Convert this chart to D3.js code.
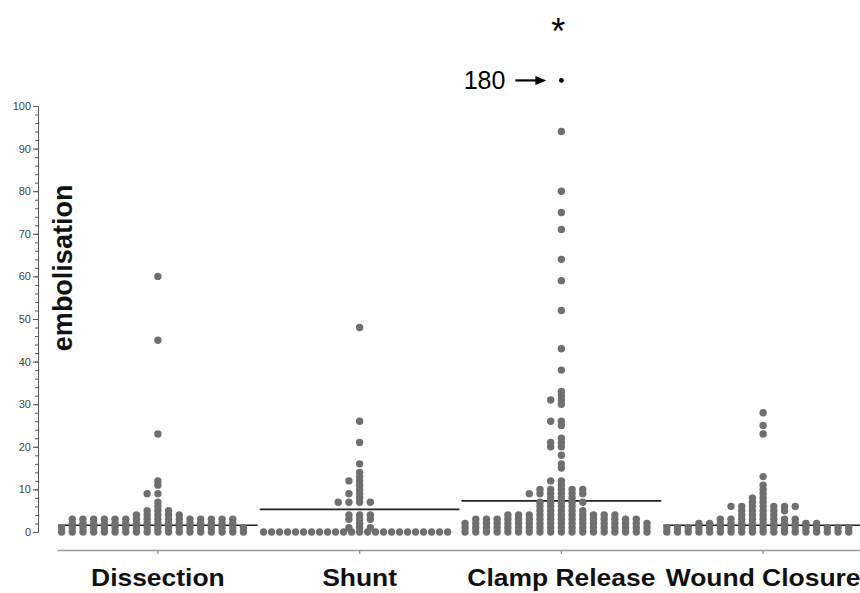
<!DOCTYPE html>
<meta charset="utf-8">
<title>Embolisation by operative phase</title>
<style>
  html, body { margin: 0; padding: 0; background: #fff; }
  svg { display: block; font-family: 'Liberation Sans', Arial, sans-serif; }
  .dot { fill: #6f6f6f; }
  .centre { stroke: #222; stroke-width: 1.6px; }
  .y-axis path, .y-axis line { stroke: #555; }
  .y-axis text { fill: #444; font-size: 11px; }
  .x-axis path, .x-axis line { stroke: #9a9a9a; stroke-width: 1.4px; }
  .cat { font-size: 23px; font-weight: bold; fill: #111; text-anchor: middle; }
  .ylabel { font-size: 27px; font-weight: bold; fill: #111; text-anchor: middle; }
</style>
<svg width="860" height="593"></svg>
<script src="https://cdn.jsdelivr.net/npm/d3@7"></script>
<script>
  /* global d3 */
  'use strict'

  const groups = ['Dissection', 'Shunt', 'Clamp Release', 'Wound Closure']

  // [embolisation count, number of patients]
  const dissection = [[0, 18], [1, 18], [2, 16], [3, 16], [4, 5], [5, 3], [6, 1], [7, 1],
    [9, 2], [11, 1], [12, 1], [23, 1], [45, 1], [60, 1]]
  const shunt = [[0, 24], [1, 3], [2, 1], [3, 3], [4, 3], [7, 4], [8, 1], [9, 2], [10, 1],
    [11, 1], [12, 2], [13, 1], [14, 1], [16, 1], [21, 1], [26, 1], [48, 1]]
  const clampRelease = [[0, 18], [1, 18], [2, 18], [3, 16], [4, 11], [5, 5], [6, 4], [7, 5],
    [8, 3], [9, 6], [10, 5], [11, 1], [12, 2], [15, 1], [16, 1], [18, 1], [20, 2], [21, 2],
    [22, 1], [25, 1], [26, 2], [30, 1], [31, 2], [32, 1], [33, 1], [38, 1], [43, 1], [52, 1],
    [59, 1], [64, 1], [71, 1], [75, 1], [80, 1], [94, 1]]
  const woundClosure = [[0, 18], [1, 18], [2, 12], [3, 8], [4, 4], [5, 5], [6, 7], [7, 2],
    [8, 2], [9, 1], [10, 1], [11, 1], [13, 1], [23, 1], [25, 1], [28, 1]]

  // horizontal line drawn across each group
  const centreLine = [1.6, 5.3, 7.3, 1.6]

  // value off the top of the axis, drawn above the break
  const offScale = [{ group: 'Clamp Release', value: 180 }]

  const series = [dissection, shunt, clampRelease, woundClosure]

  const svg = d3.select('svg')

  const x = d3.scaleBand().domain(groups).range([57, 864])
  const y = d3.scaleLinear().domain([0, 100]).range([532, 106])

  // lay each value's dots out in a row, centred on the group
  function rowLayout(counts, centre, step, maxWidth) {
    const pts = []
    counts.forEach(([v, n]) => {
      const s = n > 1 ? Math.min(step, maxWidth / (n - 1)) : step
      const first = -Math.floor(n / 2)
      for (let i = 0; i < n; i++) pts.push({ v, x: centre + (first + i) * s })
    })
    return pts
  }

  // y axis: minor ticks every 2, labelled ticks every 10
  svg.append('g')
    .attr('class', 'y-axis')
    .attr('transform', 'translate(38,0)')
    .call(d3.axisLeft(y).tickValues(d3.range(0, 101, 2)).tickSize(3).tickFormat(''))
  svg.append('g')
    .attr('class', 'y-axis')
    .attr('transform', 'translate(38,0)')
    .call(d3.axisLeft(y).tickValues(d3.range(0, 101, 10)).tickSize(5).tickSizeOuter(0).tickPadding(2))
    .call(g => g.select('.domain').remove())

  // x axis
  svg.append('g')
    .attr('class', 'x-axis')
    .attr('transform', 'translate(0,550)')
    .call(d3.axisBottom(x).tickSize(4).tickSizeOuter(0).tickFormat(''))

  svg.selectAll('.cat')
    .data(groups)
    .enter().append('text')
    .attr('class', 'cat')
    .attr('transform', d => `translate(${x(d) + x.bandwidth() / 2},586) scale(1.15,1)`)
    .text(d => d)

  svg.append('text')
    .attr('class', 'ylabel')
    .attr('transform', `translate(72,${y(62)}) rotate(-90)`)
    .text('embolisation')

  // centre lines
  svg.selectAll('.centre')
    .data(groups)
    .enter().append('line')
    .attr('class', 'centre')
    .attr('x1', d => x(d) + 1)
    .attr('x2', d => x(d) + x.bandwidth() - 1)
    .attr('y1', (d, i) => y(centreLine[i]))
    .attr('y2', (d, i) => y(centreLine[i]))

  // dots
  series.forEach((counts, i) => {
    const c = x(groups[i]) + x.bandwidth() / 2
    svg.append('g')
      .selectAll('circle')
      .data(rowLayout(counts, c, 10.7, 184))
      .enter().append('circle')
      .attr('class', 'dot')
      .attr('cx', d => d.x)
      .attr('cy', d => y(d.v))
      .attr('r', 3.7)
  })

  // the off-scale value, with its label and star
  const breakY = y(106)
  offScale.forEach(o => {
    const cx = x(o.group) + x.bandwidth() / 2
    svg.append('circle')
      .attr('cx', cx).attr('cy', breakY).attr('r', 2.4).attr('fill', '#000')
    svg.append('text')
      .attr('x', cx - 56).attr('y', breakY + 9)
      .attr('text-anchor', 'end')
      .style('font-size', '25px')
      .text(o.value)
    svg.append('line')
      .attr('x1', cx - 46).attr('x2', cx - 24)
      .attr('y1', breakY).attr('y2', breakY)
      .attr('stroke', '#000').attr('stroke-width', 2.2)
    svg.append('path')
      .attr('d', `M${cx - 15},${breakY}L${cx - 26},${breakY - 4.5}L${cx - 26},${breakY + 4.5}Z`)
      .attr('fill', '#000')
    svg.append('text')
      .attr('x', cx - 3).attr('y', breakY - 36)
      .attr('text-anchor', 'middle')
      .style('font-size', '36px')
      .text('*')
  })
</script>
